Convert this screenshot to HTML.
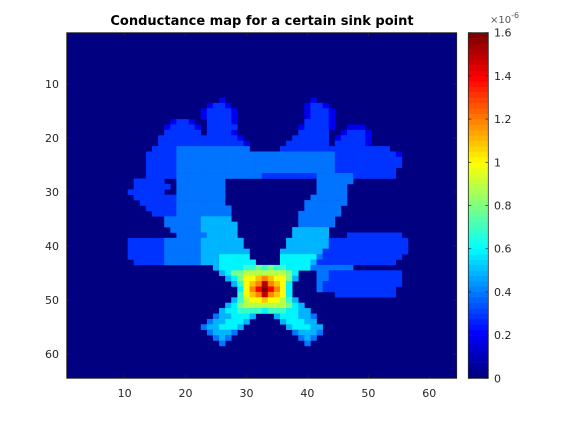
<!DOCTYPE html>
<html><head><meta charset="utf-8"><style>
html,body{margin:0;padding:0;background:#fff;}
svg{display:block;font-family:"DejaVu Sans","Liberation Sans",sans-serif;}
</style></head><body>
<svg id="chart" width="564" height="426" viewBox="0 0 564 426" xmlns="http://www.w3.org/2000/svg">
<text x="262" y="25" text-anchor="middle" font-size="13" font-weight="bold" fill="#000">Conductance map for a certain sink point</text>
<g id="cells"></g>
<g id="axes"></g>
<g id="cbar"></g>
</svg>
<script>
// value units: 0.1e-6 ; each row: [startCol, endCol, level]
const gridSize = 64;
const colorMax = 16;
const xTicks = [10,20,30,40,50,60];
const yTicks = [10,20,30,40,50,60];
const cbarTicks = [0,0.2,0.4,0.6,0.8,1,1.2,1.4,1.6];
const cbarTickLabels = ["0","0.2","0.4","0.6","0.8","1","1.2","1.4","1.6"];
const rowRuns = {
13:[[26,26,2],[41,41,2]],
14:[[24,24,2],[25,26,3],[27,27,2],[40,40,2],[41,42,3],[43,43,2]],
15:[[23,23,2],[24,27,3],[28,28,2],[40,40,2],[41,43,3],[44,44,2]],
16:[[23,23,2],[24,27,3],[28,28,2],[40,40,2],[41,43,3],[44,44,2]],
17:[[18,18,2],[19,20,3],[21,21,2],[24,27,3],[28,28,2],[40,43,3],[44,44,2]],
18:[[17,17,2],[18,21,3],[22,22,2],[24,28,3],[39,39,2],[40,43,3],[44,44,2],[47,49,2]],
19:[[17,22,3],[24,27,3],[28,28,2],[39,43,3],[46,46,2],[47,49,3],[50,50,2]],
20:[[16,28,3],[29,29,2],[38,43,3],[45,45,2],[46,49,3],[50,50,2]],
21:[[16,29,3],[30,30,2],[37,43,3],[45,49,3],[50,50,2]],
22:[[15,18,3],[19,30,4],[36,53,3]],
23:[[14,18,3],[19,44,4],[45,54,3],[55,55,2]],
24:[[14,18,3],[19,44,4],[45,55,3]],
25:[[14,18,3],[19,44,4],[45,55,3]],
26:[[14,18,3],[19,44,4],[45,54,3]],
27:[[14,18,3],[19,32,4],[33,41,3],[42,47,4],[48,54,3]],
28:[[12,16,3],[19,26,4],[42,47,4]],
29:[[12,17,3],[19,26,4],[42,46,4]],
30:[[11,16,3],[19,26,4],[42,46,4]],
31:[[12,18,3],[19,26,4],[41,46,4]],
32:[[13,18,3],[19,26,4],[40,46,4]],
33:[[14,18,3],[19,27,4],[40,45,4]],
34:[[15,18,3],[19,27,4],[39,45,4]],
35:[[17,22,4],[23,27,5],[39,44,4]],
36:[[17,22,4],[23,28,5],[39,44,4]],
37:[[18,22,4],[23,28,5],[38,43,5]],
38:[[19,23,4],[24,28,5],[38,43,5],[47,55,3]],
39:[[11,16,3],[17,22,4],[23,29,5],[37,43,5],[44,56,3]],
40:[[11,16,3],[17,22,4],[23,29,5],[37,43,5],[44,56,3]],
41:[[11,16,3],[17,22,4],[23,25,5],[26,30,5],[36,42,5],[43,56,3]],
42:[[11,16,3],[17,22,4],[23,25,5],[26,30,6],[36,41,6],[42,42,4],[43,55,3]],
43:[[12,16,3],[17,22,4],[23,25,5],[26,31,6],[36,40,6],[41,41,5],[42,54,3]],
44:[[25,25,5],[26,29,6],[30,31,7],[32,32,8],[33,33,7],[34,34,8],[35,36,7],[37,40,6],[41,47,4]],
45:[[26,26,5],[27,27,6],[28,29,8],[30,36,9],[37,37,8],[38,38,6],[42,43,4],[44,55,3]],
46:[[27,27,5],[28,28,6],[29,29,8],[30,31,10],[32,32,11],[33,33,12],[34,34,11],[35,36,10],[37,37,8],[38,38,5],[42,43,4],[44,55,3]],
47:[[28,28,5],[29,29,7],[30,30,10],[31,31,11],[32,32,12],[33,33,15],[34,34,12],[35,35,11],[36,36,10],[37,37,6],[42,42,4],[43,55,3]],
48:[[29,29,6],[30,30,10],[31,31,12],[32,32,14],[33,33,16],[34,34,14],[35,35,12],[36,36,10],[37,37,6],[42,42,4],[43,54,3]],
49:[[29,29,7],[30,30,10],[31,31,11],[32,32,12],[33,33,15],[34,34,12],[35,35,11],[36,36,10],[37,37,6],[45,54,3]],
50:[[28,28,5],[29,29,7],[30,30,9],[31,32,10],[33,33,11],[34,35,10],[36,36,9],[37,37,7],[38,38,5]],
51:[[27,27,5],[28,28,6],[29,29,8],[30,36,9],[37,37,8],[38,38,6],[39,39,5]],
52:[[26,26,5],[27,28,6],[29,32,7],[33,33,6],[34,36,7],[37,38,6],[39,40,5]],
53:[[25,25,4],[26,27,5],[28,30,6],[31,31,5],[35,35,5],[36,38,6],[39,40,5],[41,41,4]],
54:[[24,24,4],[25,26,5],[27,29,6],[30,30,5],[36,36,5],[37,39,6],[40,41,5]],
55:[[23,23,4],[24,25,5],[26,28,6],[29,29,5],[37,37,5],[38,40,6],[41,42,5]],
56:[[24,24,4],[25,27,5],[28,28,4],[38,38,4],[39,41,5],[42,42,4]],
57:[[25,25,4],[26,26,5],[27,27,4],[39,39,4],[40,40,5],[41,41,4]],
58:[[26,26,4],[40,40,4]]
};

const NS = "http://www.w3.org/2000/svg";
const PL = 66.7, PT = 32.7, PW = 390, PH = 345.6;
const CBX = 468.3, CBW = 20;
function xScale(c){ return PL + (c - 0.5) * PW / gridSize; }
function yScale(r){ return PT + (r - 0.5) * PH / gridSize; }
function cScale(v){ return PT + PH - (v / 1.6) * PH; }
function jet(t){
  t = Math.max(0, Math.min(1, t));
  const q = Math.floor(t * 63.999) / 63; // 64-level colormap
  const f = x => Math.max(0, Math.min(1, x));
  const r = f(Math.min(4*q - 1.5, -4*q + 4.5));
  const g = f(Math.min(4*q - 0.5, -4*q + 3.5));
  const b = f(Math.min(4*q + 0.5, -4*q + 2.5));
  return `rgb(${Math.round(r*255)},${Math.round(g*255)},${Math.round(b*255)})`;
}
function mk(tag, attrs, parent){
  const e = document.createElementNS(NS, tag);
  for (const k in attrs) e.setAttribute(k, attrs[k]);
  parent.appendChild(e);
  return e;
}
const cw = PW / gridSize, ch = PH / gridSize;
const cells = document.getElementById('cells');
const bg = mk('rect', {x:PL, y:PT, width:PW, height:PH, fill:jet(0)}, cells);


for (const r in rowRuns){
  for (const run of rowRuns[r]){
    for (let c = run[0]; c <= run[1]; c++){
      const cell = mk('rect', {x:(xScale(c)-cw/2).toFixed(2), y:(yScale(+r)-ch/2).toFixed(2), width:(cw+0.3).toFixed(2), height:(ch+0.3).toFixed(2), fill:jet(run[2]/colorMax)}, cells);
      
      
    }
  }
}
const axes = document.getElementById('axes');
const frame = mk('rect', {x:PL, y:PT, width:PW, height:PH, fill:'none', stroke:'#262626', 'stroke-width':0.8}, axes);


for (const t of xTicks){
  const x = xScale(t);
  mk('line', {x1:x, x2:x, y1:PT+PH, y2:PT+PH-3.5, stroke:'#262626', 'stroke-width':0.7}, axes);
  mk('line', {x1:x, x2:x, y1:PT, y2:PT+3.5, stroke:'#262626', 'stroke-width':0.7}, axes);
  const lb = mk('text', {x:x, y:397, 'text-anchor':'middle', 'font-size':11, fill:'#262626'}, axes);
  lb.textContent = t;
  
  
}
for (const t of yTicks){
  const y = yScale(t);
  mk('line', {x1:PL, x2:PL+3.5, y1:y, y2:y, stroke:'#262626', 'stroke-width':0.7}, axes);
  mk('line', {x1:PL+PW, x2:PL+PW-3.5, y1:y, y2:y, stroke:'#262626', 'stroke-width':0.7}, axes);
  const lb = mk('text', {x:59, y:y+4, 'text-anchor':'end', 'font-size':11, fill:'#262626'}, axes);
  lb.textContent = t;
  
  
}
const cb = document.getElementById('cbar');
const nSteps = 64;
for (let i = 0; i < nSteps; i++){
  const v0 = i * 1.6 / nSteps, v1 = (i+1) * 1.6 / nSteps;
  mk('rect', {x:CBX, y:cScale(v1).toFixed(2), width:CBW, height:(cScale(v0)-cScale(v1)+0.3).toFixed(2), fill:jet((i+0.5)/nSteps)}, cb);
}
const cbf = mk('rect', {x:CBX, y:PT, width:CBW, height:PH, fill:'none', stroke:'#262626', 'stroke-width':0.8}, cb);


cbarTicks.forEach((v, i) => {
  const y = cScale(v);
  mk('line', {x1:CBX+CBW, x2:CBX+CBW-3, y1:y, y2:y, stroke:'#262626', 'stroke-width':0.7}, cb);
  mk('line', {x1:CBX, x2:CBX+3, y1:y, y2:y, stroke:'#262626', 'stroke-width':0.7}, cb);
  const lb = mk('text', {x:494, y:y+4, 'font-size':11, fill:'#262626'}, cb);
  lb.textContent = cbarTickLabels[i];
  
  
});
const ex = mk('text', {x:490, y:23, 'font-size':10, fill:'#555'}, cb);
ex.innerHTML = '×10<tspan dy="-5" font-size="8">-6</tspan>';


</script>
</body></html>
